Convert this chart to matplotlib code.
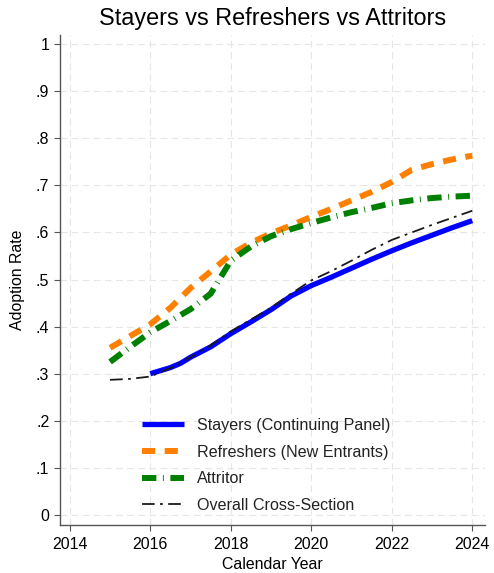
import matplotlib
matplotlib.use("Agg")
import matplotlib.pyplot as plt
import numpy as np

plt.rcParams['font.family'] = ['Liberation Sans', 'DejaVu Sans']

title = "Stayers vs Refreshers vs Attritors"
xlabel = "Calendar Year"
ylabel = "Adoption Rate"

years_stay = [2016.0, 2016.5, 2016.75, 2017.0, 2017.5, 2018.0, 2018.5, 2019.0, 2019.5,
              2020.0, 2020.5, 2021.0, 2021.5, 2022.0, 2022.5, 2023.0, 2023.5, 2024.0]
stayers = [0.300, 0.313, 0.322, 0.335, 0.357, 0.385, 0.410, 0.436, 0.465,
           0.487, 0.505, 0.524, 0.543, 0.561, 0.578, 0.594, 0.610, 0.625]

years_full = [2015.0, 2015.5, 2016.0, 2016.5, 2017.0, 2017.5, 2018.0, 2018.5, 2019.0, 2019.5,
              2020.0, 2020.5, 2021.0, 2021.5, 2022.0, 2022.5, 2023.0, 2023.5, 2024.0]
refreshers = [0.355, 0.380, 0.405, 0.440, 0.482, 0.517, 0.553, 0.578, 0.598, 0.615,
              0.633, 0.650, 0.668, 0.686, 0.707, 0.733, 0.745, 0.755, 0.763]
attritor = [0.325, 0.357, 0.388, 0.412, 0.437, 0.470, 0.540, 0.570, 0.592, 0.607,
            0.620, 0.632, 0.643, 0.652, 0.662, 0.668, 0.673, 0.676, 0.678]
overall = [0.287, 0.289, 0.294, 0.312, 0.335, 0.360, 0.390, 0.415, 0.440, 0.470,
           0.498, 0.518, 0.540, 0.563, 0.584, 0.600, 0.616, 0.631, 0.646]

labels = ["Stayers (Continuing Panel)", "Refreshers (New Entrants)", "Attritor",
          "Overall Cross-Section"]
xticks = [2014, 2016, 2018, 2020, 2022, 2024]
yticks = [0, 0.1, 0.2, 0.3, 0.4, 0.5, 0.6, 0.7, 0.8, 0.9, 1.0]
ytick_labels = ["0", ".1", ".2", ".3", ".4", ".5", ".6", ".7", ".8", ".9", "1"]

fig = plt.figure(figsize=(4.94, 5.73), dpi=100)
ax = fig.add_axes([0.121, 0.0838, 0.861, 0.8558])

ax.plot(years_stay, stayers, color='#0000ff', lw=3.8, solid_capstyle='butt',
        label=labels[0], zorder=3)
ax.plot(years_full, refreshers, color='#ff8000', lw=4.3, dashes=(2.2, 1.6),
        dash_capstyle='butt', label=labels[1], zorder=2)
ax.plot(years_full, attritor, color='#008000', lw=4.3, dashes=(2.4, 1.1, 0.15, 1.1),
        dash_capstyle='butt', label=labels[2], zorder=2)
ax.plot(years_full, overall, color='#1a1a1a', lw=1.3, dashes=(7, 3, 1.5, 3),
        label=labels[3], zorder=4)

ax.set_xlim(2013.75, 2024.32)
ax.set_ylim(-0.0212, 1.02)
ax.set_xticks(xticks)
ax.set_yticks(yticks)
ax.set_yticklabels(ytick_labels)
ax.grid(True, color='#e6e6e6', lw=0.8, ls=(0, (6, 4)))
ax.set_axisbelow(True)
for s in ['top', 'right']:
    ax.spines[s].set_visible(False)
for s in ['left', 'bottom']:
    ax.spines[s].set_color('#555555')
    ax.spines[s].set_linewidth(1.0)
ax.tick_params(axis='both', colors='#555555', labelcolor='black', labelsize=11.5,
               length=4, width=0.8)
ax.tick_params(axis='x', pad=5)

ax.set_title(title, fontsize=16.8, pad=7)
ax.set_xlabel(xlabel, fontsize=11.4, labelpad=3)
ax.set_ylabel(ylabel, fontsize=11.4, labelpad=8)

leg = ax.legend(loc='lower center', bbox_to_anchor=(0.485, -0.005), frameon=False,
                fontsize=11.6, handlelength=2.6, handletextpad=0.8, labelspacing=0.72)
for t in leg.get_texts():
    t.set_color('#222222')

fig.savefig("out.png", dpi=100)
